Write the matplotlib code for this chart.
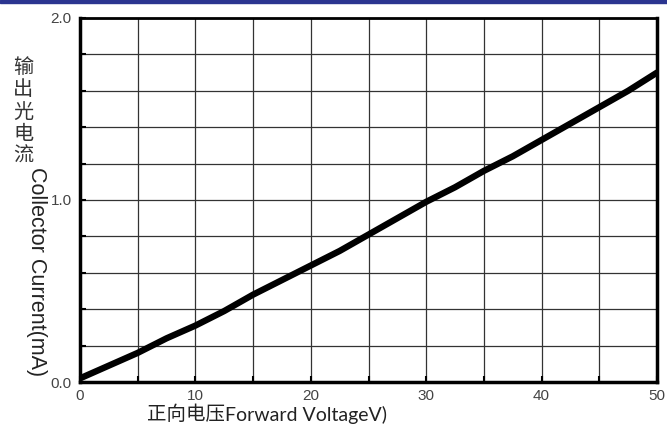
import matplotlib.pyplot as plt
from matplotlib.patches import Rectangle

# forward voltage (V) vs collector current (mA)
voltage = [0, 2.5, 5, 7.5, 10, 12.5, 15, 17.5, 20, 22.5, 25,
           27.5, 30, 32.5, 35, 37.5, 40, 42.5, 45, 47.5, 50]
current = [0.02, 0.09, 0.16, 0.24, 0.31, 0.39, 0.48, 0.56, 0.64, 0.72, 0.81,
           0.90, 0.99, 1.07, 1.16, 1.24, 1.33, 1.42, 1.51, 1.60, 1.70]

x_ticks = [0, 10, 20, 30, 40, 50]
y_ticks = [0.0, 1.0, 2.0]

plt.rcParams['font.family'] = ['Liberation Sans', 'Noto Sans CJK SC']

fig = plt.figure(figsize=(6.67, 4.45), dpi=100)
ax = fig.add_axes([80 / 667, 63 / 445, 577 / 667, 364 / 445])

# blue strip along the top edge
fig.patches.append(Rectangle((0, 1 - 3 / 445), 1, 3 / 445, transform=fig.transFigure,
                             color="#2b3590", zorder=0))

ax.plot(voltage, current, color="black", lw=4.6, solid_capstyle="round", zorder=3)

ax.set_xlim(0, 50)
ax.set_ylim(0, 2.0)
ax.set_xticks(x_ticks)
ax.set_xticklabels([str(v) for v in x_ticks])
ax.set_yticks(y_ticks)
ax.set_yticklabels([f"{v:.1f}" for v in y_ticks])
ax.set_xticks([v + 5 for v in x_ticks[:-1]], minor=True)
ax.set_yticks([i * 0.2 for i in range(1, 10) if i != 5], minor=True)

ax.grid(True, which="both", color="#333333", lw=0.9)
ax.tick_params(which="both", direction="in", length=4, width=1.5, colors="black",
               labelcolor="#444444", labelsize=11)
ax.tick_params(axis="x", pad=5)
ax.tick_params(axis="y", pad=6)
for side in ["left", "bottom", "right"]:
    ax.spines[side].set_linewidth(2.5)
ax.spines["top"].set_linewidth(2.0)

fig.text(23 / 667, 1 - 112 / 445, "\n".join("输出光电流"), ha="center", va="center",
         fontsize=14.5, linespacing=1.08, color="#333333", family="Noto Sans CJK SC")
fig.text(36 / 667, 1 - 272 / 445, "Collector Current(mA)", ha="center", va="center",
         rotation=270, fontsize=15.5, color="#222222")
fig.text(147 / 667, 1 - 415 / 445, "正向电压", ha="left", va="center",
         fontsize=14, color="#222222", family="Noto Sans CJK SC")
fig.text(225 / 667, 1 - 415 / 445, "Forward VoltageV)", ha="left", va="center",
         fontsize=14, color="#222222", family="Lato")

fig.savefig("out.png", dpi=100)
